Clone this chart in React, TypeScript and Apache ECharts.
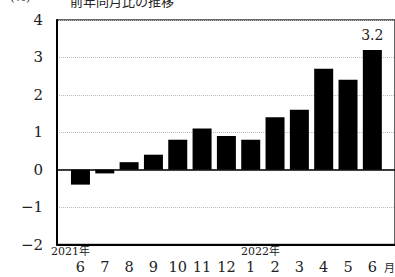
import React, { useEffect, useRef } from "react";
import * as echarts from "echarts";

const months = ["6", "7", "8", "9", "10", "11", "12", "1", "2", "3", "4", "5", "6"];
const values = [-0.4, -0.1, 0.2, 0.4, 0.8, 1.1, 0.9, 0.8, 1.4, 1.6, 2.7, 2.4, 3.2];
const yTicks = [-2, -1, 0, 1, 2, 3, 4];
const yTickLabels = ["−2", "−1", "0", "1", "2", "3", "4"];
const yearLabels = ["2021年", "2022年"];
const titleText = "前年同月比の推移";
const unitText = "(%)";
const monthUnit = "月";

const FONT = "'DejaVu Serif', 'Liberation Serif', 'Noto Sans CJK JP', serif";
const CJK = "'Noto Sans CJK JP', sans-serif";

export default function App() {
  const ref = useRef<HTMLDivElement>(null);
  useEffect(() => {
    if (!ref.current) return;
    const chart = echarts.init(ref.current, null, { renderer: "svg" });
    const top = 20;
    const bottom = 32.5;
    chart.setOption({
      animation: false,
      grid: [
        { left: 57, right: -10, top, bottom, show: true, borderColor: "#333", borderWidth: 1.5, backgroundColor: "transparent" },
        { left: 68.3, right: 10.5, top, bottom },
      ],
      xAxis: [
        {
          gridIndex: 0, type: "value", min: 0, max: 1, position: "top",
          axisLine: { show: true, onZero: true, lineStyle: { color: "#000", width: 1.5 } },
          axisTick: { show: false }, axisLabel: { show: false }, splitLine: { show: false },
        },
        {
          gridIndex: 0, type: "value", min: 0, max: 1, position: "bottom",
          axisLine: { show: true, onZero: false, lineStyle: { color: "#000", width: 2 } },
          axisTick: { show: false }, axisLabel: { show: false }, splitLine: { show: false },
        },
        {
          gridIndex: 1, type: "category", data: months, position: "bottom",
          axisLine: { show: false, onZero: false }, axisTick: { show: false },
          axisLabel: { show: true, margin: 15, fontSize: 14.5, color: "#222", fontFamily: FONT, interval: 0 },
        },
      ],
      yAxis: [
        {
          gridIndex: 0, type: "value", min: yTicks[0], max: yTicks[yTicks.length - 1], interval: 1,
          axisLine: { show: true, lineStyle: { color: "#000", width: 2 } },
          axisTick: { show: false },
          axisLabel: {
            margin: 14, fontSize: 15, color: "#222", fontFamily: FONT, hideOverlap: false,
            formatter: (v: number) => {
              const idx = yTicks.indexOf(Math.round(v));
              return idx >= 0 ? yTickLabels[idx] : "";
            },
          },
          splitLine: { show: true, lineStyle: { color: "#bbb", type: [1, 1], width: 1 } },
        },
        {
          gridIndex: 1, type: "value", min: yTicks[0], max: yTicks[yTicks.length - 1], interval: 1,
          show: false,
        },
      ],
      series: [
        {
          type: "bar", xAxisIndex: 2, yAxisIndex: 1, data: values.map((v, i) => ({
            value: v,
            label: i === values.length - 1
              ? { show: true, position: "top", distance: 8, formatter: "{c}", fontSize: 14, color: "#222", fontFamily: FONT }
              : { show: false },
          })),
          barWidth: 19, itemStyle: { color: "#000" },
        },
      ],
      graphic: [
        { type: "text", left: 70, top: -6, style: { text: titleText, fontSize: 13, fill: "#222", fontFamily: CJK } },
        { type: "text", left: 10, top: -9, style: { text: unitText, fontSize: 12, fill: "#222", fontFamily: FONT } },
        { type: "text", left: 51, top: 246, style: { text: yearLabels[0], fontSize: 11, fill: "#222", fontFamily: FONT } },
        { type: "text", left: 241, top: 246, style: { text: yearLabels[1], fontSize: 11, fill: "#222", fontFamily: FONT } },
        { type: "text", left: 384, top: 261, style: { text: monthUnit, fontSize: 11, fill: "#222", fontFamily: CJK } },
      ],
    });
    return () => chart.dispose();
  }, []);
  return <div ref={ref} style={{ position: "fixed", left: 0, top: 0, width: 395, height: 277, background: "#fff" }} />;
}
